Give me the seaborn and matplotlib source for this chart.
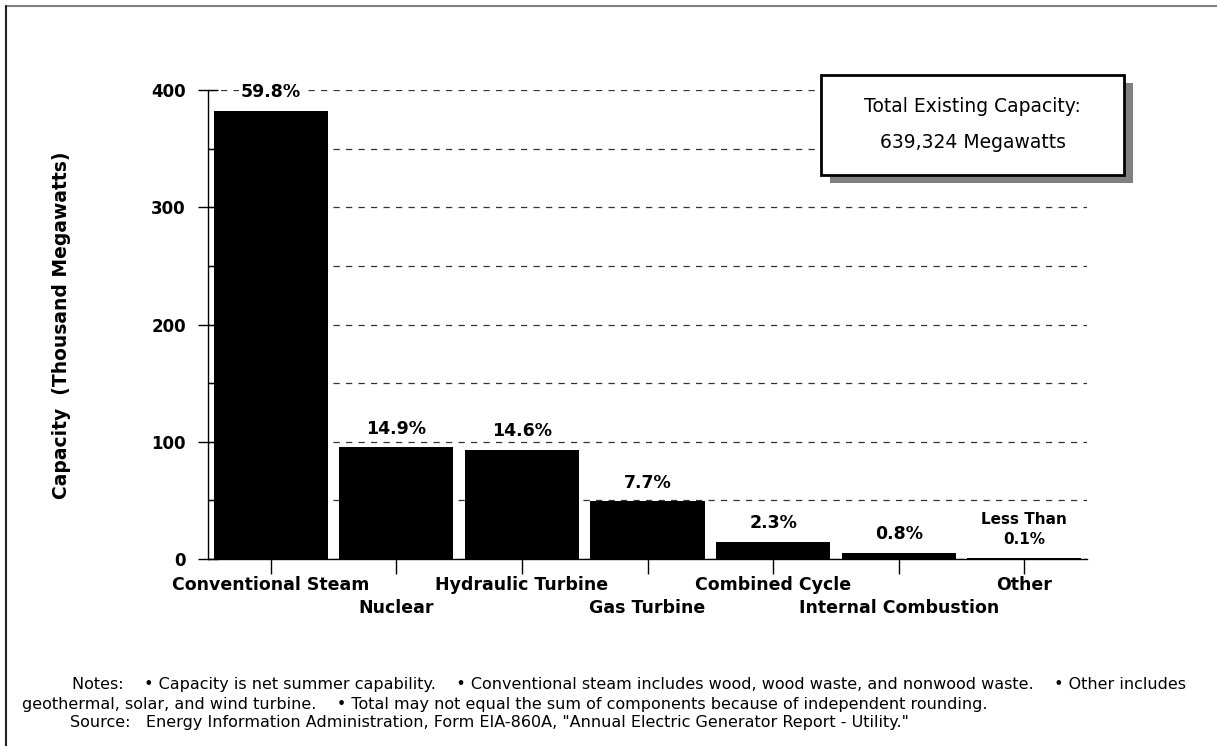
import matplotlib
matplotlib.use("Agg")
import matplotlib.pyplot as plt
import pandas as pd
import seaborn as sns
from matplotlib.lines import Line2D
from matplotlib.patches import Rectangle
from matplotlib.transforms import ScaledTranslation

# Existing capacity by prime mover (thousand megawatts)
categories = ["Conventional Steam", "Nuclear", "Hydraulic Turbine", "Gas Turbine",
              "Combined Cycle", "Internal Combustion", "Other"]
capacity = [382.3, 95.3, 93.3, 49.2, 14.7, 5.1, 0.6]
pct_labels = ["59.8%", "14.9%", "14.6%", "7.7%", "2.3%", "0.8%", "Less Than\n0.1%"]
y_ticks = [0, 100, 200, 300, 400]
y_minor = [50, 150, 250, 350]

sns.set_theme(style="white")
plt.rcParams["font.family"] = ["DejaVu Sans"]
plt.rcParams["text.color"] = "black"
plt.rcParams["axes.labelcolor"] = "black"
plt.rcParams["xtick.color"] = "black"
plt.rcParams["ytick.color"] = "black"

df = pd.DataFrame({"type": categories, "capacity": capacity})

W, H = 1217, 746
fig = plt.figure(figsize=(W / 100, H / 100), dpi=100)
ax = fig.add_axes([208 / W, 1 - 559 / H, (1087 - 208) / W, (559 - 90) / H])

sns.barplot(data=df, x="type", y="capacity", order=categories, color="black",
            saturation=1, width=0.91, linewidth=0, ax=ax)

ax.set_xlim(-0.5, 6.5)
ax.set_ylim(0, 400)
ax.set_yticks(y_ticks)
ax.set_yticks(y_minor, minor=True)
ax.set_axisbelow(True)
ax.yaxis.grid(True, which="both", linestyle=(0, (5, 5)), color="#333333", linewidth=0.9)
ax.xaxis.grid(False)

for s in ["top", "right"]:
    ax.spines[s].set_visible(False)
for s in ["left", "bottom"]:
    ax.spines[s].set_color("black")
    ax.spines[s].set_linewidth(1)

ax.tick_params(axis="y", which="major", direction="inout", length=14, width=1,
               color="black", pad=9, labelsize=12, left=True)
ax.tick_params(axis="y", which="minor", direction="in", length=4, width=1,
               color="black", left=True)
ax.tick_params(axis="x", direction="out", length=11, width=1, color="black",
               pad=1, labelsize=12.5, bottom=True)
for t in ax.get_yticklabels():
    t.set_fontweight("bold")

ax.set_xticks(range(len(categories)))
ax.set_xticklabels(categories)
# stagger every second category label onto a lower row
drop = ScaledTranslation(0, -0.23, fig.dpi_scale_trans)
for i, t in enumerate(ax.get_xticklabels()):
    t.set_fontweight("bold")
    if i % 2 == 1:
        t.set_transform(t.get_transform() + drop)

ax.set_xlabel("")
ax.set_ylabel("")
fig.text(62 / W, 1 - 325 / H, "Capacity  (Thousand Megawatts)", rotation=90,
         ha="center", va="center", fontsize=13.5, fontweight="bold")

# percentage labels above bars
for i, (v, lab) in enumerate(zip(capacity, pct_labels)):
    small = "\n" in lab
    ax.annotate(lab, xy=(i, v), xytext=(0, 7 if not small else 8), textcoords="offset points",
                ha="center", va="bottom", fontsize=11 if small else 12.5,
                fontweight="bold", linespacing=1.4,
                bbox=dict(facecolor="white", edgecolor="none", pad=1) if i == 0 else None)

# total capacity box with shadow
bx0, by0, bx1, by1 = 821, 75, 1124, 175
fig.patches.append(Rectangle(((bx0 + 9) / W, 1 - (by1 + 8) / H), (bx1 - bx0) / W,
                             (by1 - by0) / H, transform=fig.transFigure,
                             facecolor="#808080", edgecolor="none", zorder=5))
fig.patches.append(Rectangle((bx0 / W, 1 - by1 / H), (bx1 - bx0) / W, (by1 - by0) / H,
                             transform=fig.transFigure, facecolor="white",
                             edgecolor="black", linewidth=2, zorder=6))
fig.text((bx0 + bx1) / 2 / W, 1 - 107 / H, "Total Existing Capacity:", ha="center",
         va="center", fontsize=13.5, zorder=7)
fig.text((bx0 + bx1) / 2 / W, 1 - 142 / H, "639,324 Megawatts", ha="center",
         va="center", fontsize=13.5, zorder=7)

# notes
fig.text(72 / W, 1 - 685 / H,
         "Notes:    \u2022 Capacity is net summer capability.    \u2022 Conventional steam "
         "includes wood, wood waste, and nonwood waste.    \u2022 Other includes",
         ha="left", va="center", fontsize=11.5)
fig.text(22 / W, 1 - 704 / H,
         "geothermal, solar, and wind turbine.    \u2022 Total may not equal the sum of "
         "components because of independent rounding.",
         ha="left", va="center", fontsize=11.5)
fig.text(70 / W, 1 - 722 / H,
         "Source:   Energy Information Administration, Form EIA-860A, "
         "\"Annual Electric Generator Report - Utility.\"",
         ha="left", va="center", fontsize=11.5)

# page border (top and left)
fig.add_artist(Line2D([6 / W, 1], [1 - 6 / H, 1 - 6 / H], color="#808080", linewidth=1.5))
fig.add_artist(Line2D([6 / W, 6 / W], [0, 1 - 6 / H], color="#222222", linewidth=1.5))

fig.savefig("out.png", dpi=100)
